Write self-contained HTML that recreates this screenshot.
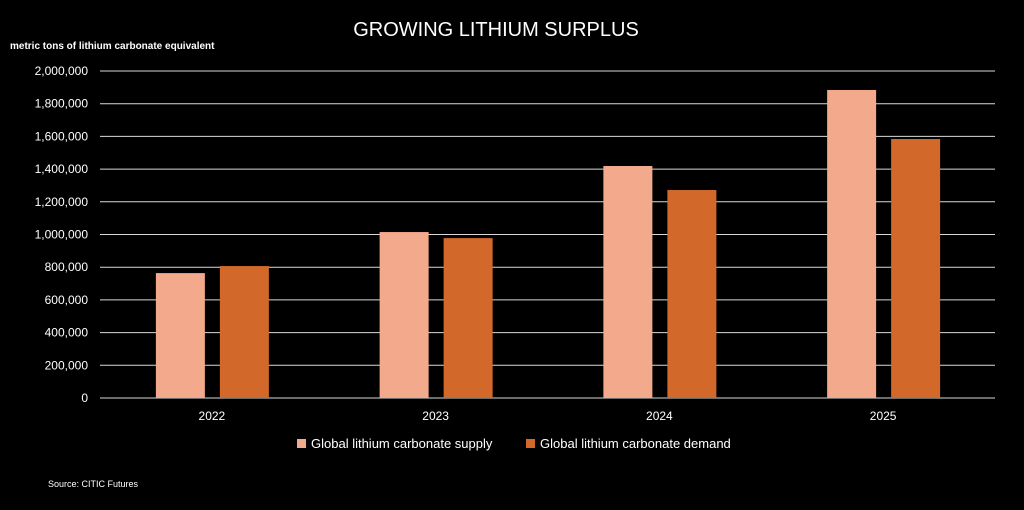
<!DOCTYPE html>
<html><head><meta charset="utf-8"><style>
body{margin:0;background:#000;width:1024px;height:505px;overflow:hidden;font-family:"Liberation Sans",sans-serif}
</style></head><body>
<svg width="1024" height="505" xmlns="http://www.w3.org/2000/svg" id="svg">
<rect width="1024" height="505" fill="#000"/>
<text x="496" y="36" fill="#fff" font-size="20" text-anchor="middle">GROWING LITHIUM SURPLUS</text>
<text x="10" y="49" fill="#fff" font-size="10" font-weight="bold">metric tons of lithium carbonate equivalent</text>
<g id="grid"></g><g id="bars"></g><g id="labels"></g>
<rect x="297" y="439" width="9" height="9" fill="#f2a98c"/>
<text x="311" y="448" fill="#fff" font-size="13">Global lithium carbonate supply</text>
<rect x="526" y="439" width="9" height="9" fill="#d2692b"/>
<text x="540" y="448" fill="#fff" font-size="13">Global lithium carbonate demand</text>
<text x="48" y="487" fill="#fff" font-size="9">Source: CITIC Futures</text>
</svg>
<script>
const categories=["2022","2023","2024","2025"];
const supply=[764000,1015000,1419000,1884000];
const demand=[807000,978000,1272000,1584000];
const ticks=[0,200000,400000,600000,800000,1000000,1200000,1400000,1600000,1800000,2000000];
const NS="http://www.w3.org/2000/svg";
const x0=100,x1=995,y0=398,y1=71,maxV=2000000;
const y=v=>y0-(v/maxV)*(y0-y1);
const cw=(x1-x0)/categories.length;
const g=document.getElementById('grid'),b=document.getElementById('bars'),l=document.getElementById('labels');
function mk(t,a,p){const e=document.createElementNS(NS,t);for(const k in a)e.setAttribute(k,a[k]);p.appendChild(e);return e;}
ticks.forEach(v=>{
 const ln=mk('line',{x1:x0,x2:x1,y1:y(v),y2:y(v),stroke:'#d9d9d9','stroke-width':1},g);
 
 
 const t=mk('text',{x:88,y:y(v)+4,fill:'#fff','font-size':12,'text-anchor':'end'},l);
 t.textContent=v.toLocaleString('en-US');
 
 
});
categories.forEach((c,i)=>{
 const cx=x0+cw*(i+0.5);
 const r1=mk('rect',{x:cx-56,y:y(supply[i]),width:49,height:y0-y(supply[i]),fill:'#f2a98c'},b);
 
 
 const r2=mk('rect',{x:cx+8,y:y(demand[i]),width:49,height:y0-y(demand[i]),fill:'#d2692b'},b);
 
 
 const t=mk('text',{x:cx,y:420,fill:'#fff','font-size':12,'text-anchor':'middle'},l);
 t.textContent=c;
 
 
});
</script>
</body></html>
